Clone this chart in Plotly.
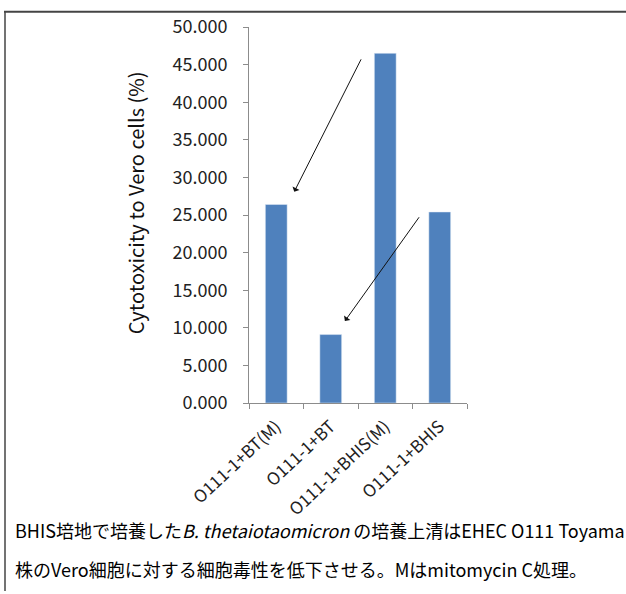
import plotly.graph_objects as go

categories = ["O111-1+BT(M)", "O111-1+BT", "O111-1+BHIS(M)", "O111-1+BHIS"]
values = [26.4, 9.1, 46.5, 25.4]
y_ticks = [0, 5, 10, 15, 20, 25, 30, 35, 40, 45, 50]

FONT = "Noto Sans CJK JP"
W, H = 626, 594
L, R, T, B = 249, 159, 21, 191
pw, ph = W - L - R, H - T - B

def px(x):
    return (x - L) / pw

def py(y):
    return (H - B - y) / ph

fig = go.Figure(go.Bar(x=categories, y=values, marker_color="#4F81BD", width=0.4))

fig.update_layout(
    width=W, height=H, margin=dict(l=L, r=R, t=T, b=B),
    paper_bgcolor="white", plot_bgcolor="white", showlegend=False,
    font=dict(family=FONT, color="#222222"),
)
fig.update_yaxes(
    range=[0, 50], tickvals=y_ticks, tickformat=".3f", showgrid=False,
    showline=True, linecolor="#8c8c8c", linewidth=1, ticks="outside", ticklen=5,
    tickcolor="#8c8c8c", tickfont=dict(size=18, family=FONT), zeroline=False,
    ticklabelstandoff=12,
)
fig.update_xaxes(
    range=[-0.5, 3.5], showgrid=False, showline=True, linecolor="#8c8c8c", linewidth=1,
    ticks="outside", ticklen=5, tickcolor="#8c8c8c", tickson="boundaries",
    tickangle=-43, tickfont=dict(size=17, family=FONT), ticklabelstandoff=6,
)

# y-axis title
fig.add_annotation(text="Cytotoxicity to Vero cells (%)", textangle=-90, xref="paper", yref="paper",
                   x=px(135), y=py(200), xanchor="center", yanchor="middle", showarrow=False,
                   font=dict(size=20, family=FONT, color="#111"))

# arrows
arrows = [((0.33, 28.1), (1.57, 45.9)), ((1.26, 10.9), (2.64, 24.9))]
for (hx, hy), (tx, ty) in arrows:
    fig.add_annotation(x=hx, y=hy, ax=tx, ay=ty, xref="x", yref="y", axref="x", ayref="y",
                       showarrow=True, arrowhead=1, arrowsize=1.3, arrowwidth=1, arrowcolor="#111", text="")

# caption
fig.add_annotation(text="BHIS培地で培養した<i>B. thetaiotaomicron</i> の培養上清はEHEC O111 Toyama",
                   xref="paper", yref="paper", x=px(13), y=py(532), xanchor="left", yanchor="middle",
                   showarrow=False, font=dict(size=18, family=FONT, color="#000"))
fig.add_annotation(text="株のVero細胞に対する細胞毒性を低下させる。Mはmitomycin C処理。",
                   xref="paper", yref="paper", x=px(13), y=py(572), xanchor="left", yanchor="middle",
                   showarrow=False, font=dict(size=18, family=FONT, color="#000"))

# frame lines
fig.add_shape(type="line", xref="paper", yref="paper", x0=px(4), x1=px(626), y0=py(5.5), y1=py(5.5),
              line=dict(color="#444", width=2))
fig.add_shape(type="line", xref="paper", yref="paper", x0=px(5), x1=px(5), y0=py(5), y1=py(594),
              line=dict(color="#444", width=1.5))

fig.write_html("out.html")
